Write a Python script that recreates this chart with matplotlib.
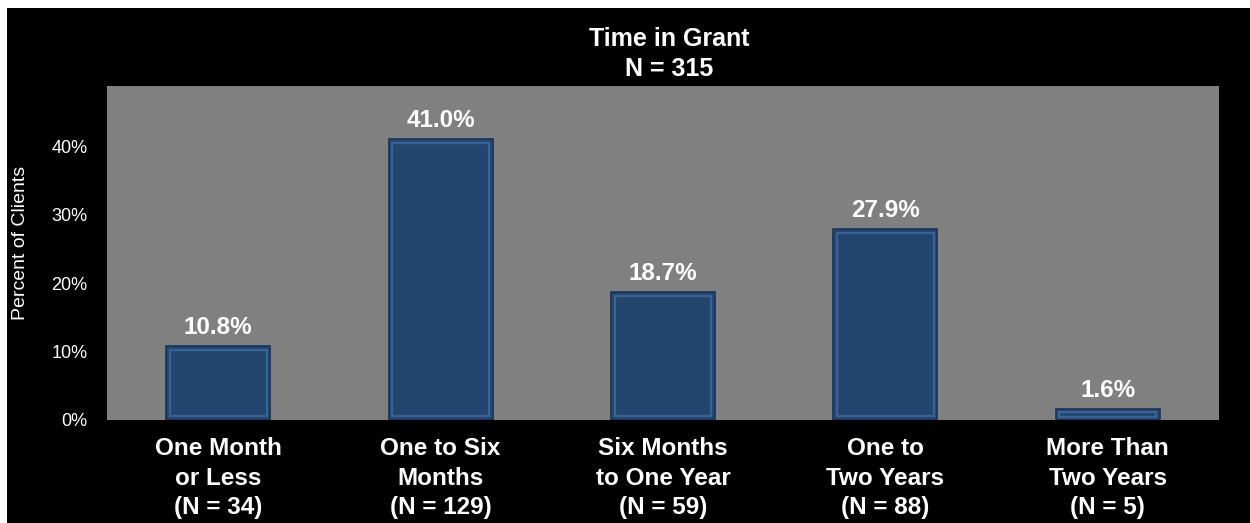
import matplotlib.pyplot as plt
from matplotlib.patches import Rectangle
from matplotlib.ticker import FuncFormatter

plt.rcParams['font.family'] = ['Liberation Sans', 'DejaVu Sans']

categories = ["One Month\nor Less\n(N = 34)",
              "One to Six\nMonths\n(N = 129)",
              "Six Months\nto One Year\n(N = 59)",
              "One to\nTwo Years\n(N = 88)",
              "More Than\nTwo Years\n(N = 5)"]
percents = [10.8, 41.0, 18.7, 27.9, 1.6]

W, H = 1250, 523
fig = plt.figure(figsize=(W / 100, H / 100), dpi=100, facecolor="white")

# black slide background, thin white margin on the left and top
fig.patches.append(Rectangle((7 / W, 0), 1 - 7 / W, 1 - 8 / H,
                             transform=fig.transFigure, facecolor="black",
                             edgecolor="none", zorder=-10))

ax = fig.add_axes([107 / W, 103 / H, 1112 / W, 334 / H])
ax.set_facecolor("#808080")

x = range(len(categories))
width = 0.468
bars = ax.bar(x, percents, width=width, color="#23466F",
              edgecolor="#183457", linewidth=1.2, zorder=2)

# bevel look: lighter inner outline on each bar
for b in bars:
    bx, by = b.get_x(), b.get_y()
    bw, bh = b.get_width(), b.get_height()
    inset_x = 0.016
    inset_y = min(0.55, bh * 0.25)
    ax.add_patch(Rectangle((bx + inset_x, by + inset_y),
                           bw - 2 * inset_x, bh - 2 * inset_y,
                           fill=False, edgecolor="#3A6296",
                           linewidth=1.6, zorder=3))

for i, v in enumerate(percents):
    ax.annotate(f"{v:.1f}%", (i, v), xytext=(0, 9), textcoords="offset points",
                ha="center", va="baseline", color="white",
                fontsize=17.5, fontweight="bold")

ax.set_xlim(-0.5, len(categories) - 0.5)
ax.set_ylim(0, 48.8)
ax.set_yticks([0, 10, 20, 30, 40])
ax.yaxis.set_major_formatter(FuncFormatter(lambda v, p: f"{v:.0f}%"))
ax.set_xticks(list(x))
ax.set_xticklabels(categories, fontsize=17.5, fontweight="bold",
                   color="white", linespacing=1.38)
ax.tick_params(axis="y", colors="white", labelsize=13, length=0, pad=14)
ax.tick_params(axis="x", length=0, pad=12)

for s in ["top", "right", "left", "bottom"]:
    ax.spines[s].set_visible(False)

ax.set_ylabel("Percent of Clients", color="white", fontsize=14)
ax.yaxis.set_label_coords((29 - 107) / 1112, 0.53)

fig.text(669 / W, 1 - 46 / H, "Time in Grant", ha="center", va="baseline",
         color="white", fontsize=18, fontweight="bold")
fig.text(669 / W, 1 - 76 / H, "N = 315", ha="center", va="baseline",
         color="white", fontsize=18, fontweight="bold")

plt.savefig("out.png", dpi=100, facecolor="white")
plt.close()
